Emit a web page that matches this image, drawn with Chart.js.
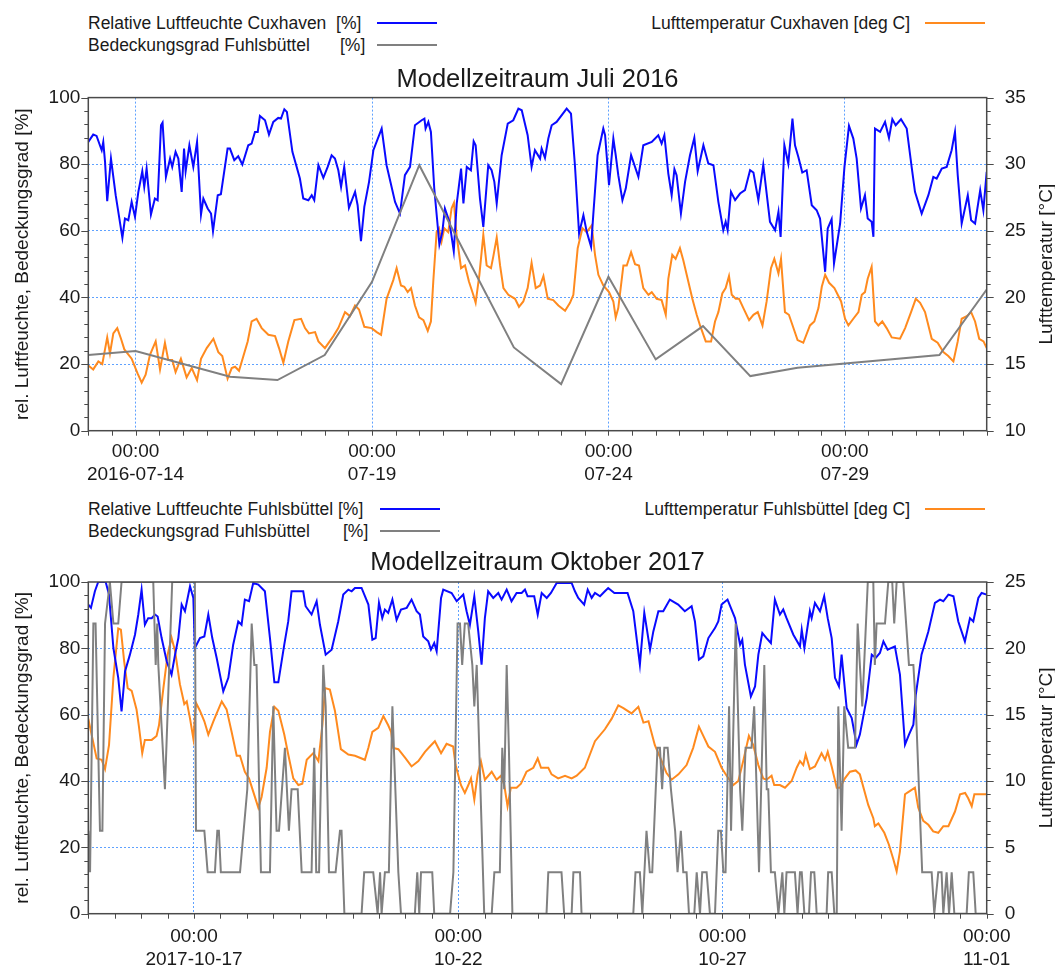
<!DOCTYPE html>
<html>
<head>
<meta charset="utf-8">
<script src="https://cdn.jsdelivr.net/npm/chart.js@4.4.1/dist/chart.umd.min.js"></script>
<style>
    html, body { margin: 0; padding: 0; background: #fff; }
    body {
        width: 1055px; height: 967px; position: relative; overflow: hidden;
        font-family: 'Liberation Sans', Arial, sans-serif; color: #1a1a1a;
    }
    .lg { position: absolute; font-size: 17.5px; line-height: 20px; white-space: pre; }
    .sw { position: absolute; height: 2px; }
    canvas { position: absolute; left: 0; }
</style>
</head>
<body>
<div id="legend"></div>
<canvas id="julChart" width="1055" height="430" style="top:60px"></canvas>
<canvas id="octChart" width="1055" height="427" style="top:540px"></canvas>
<script>
// --- Data (x = hours since start of period) ---
// Juli 2016: start 2016-07-13 00:00
const JULY_HUMIDITY = [
    [0,86.7],[2.5,88.9],[4.2,88.5],[6.8,84.2],[7.6,86.7],[8.5,80.7],[9.6,68.9],[11.5,81.7],[13.9,70.7],[17.3,57.9],
    [18.6,63.7],[20.3,63.2],[22.0,68.7],[23.7,64.2],[25.4,71.7],[27.4,77.9],[28.4,73.2],[29.6,78.7],[31.8,64.9],[33.8,69.7],
    [35.2,69.2],[36.9,91.7],[37.7,92.5],[39.4,76.2],[41.5,81.7],[42.6,79.2],[44.3,83.7],[45.7,81.7],[47.4,71.7],[48.6,84.7],
    [49.4,77.9],[51.3,85.7],[53.3,79.2],[55.2,86.7],[57.2,64.9],[58.4,69.7],[60.6,66.7],[62.3,65.2],[63.3,59.9],[65.7,70.7],
    [67.3,71.0],[70.7,84.7],[71.9,84.7],[74.1,81.2],[76.1,82.4],[78.2,79.9],[81.2,85.7],[82.9,86.2],[84.6,89.7],[86.0,89.7],
    [87.1,94.5],[89.7,93.2],[91.7,88.9],[93.9,92.7],[96.4,93.9],[97.8,93.7],[99.5,96.5],[100.8,95.7],[103.6,83.7],[107.4,75.7],
    [109.1,69.7],[111.7,69.2],[113.4,70.7],[114.7,69.2],[116.8,79.7],[119.3,75.9],[121.5,79.2],[123.5,82.7],[125.2,81.7],[126.9,78.2],
    [128.3,73.2],[129.9,79.2],[132.3,66.9],[135.4,71.7],[136.7,67.7],[138.4,56.9],[140.1,67.2],[142.5,74.7],[144.7,84.2],[148.9,90.7],
    [151.4,79.7],[155.7,68.7],[158.2,65.2],[160.7,76.7],[163.3,79.2],[165.8,91.7],[169.2,93.2],[170.6,93.7],[171.2,90.7],[172.6,92.7],
    [173.9,89.7],[175.6,72.7],[178.2,55.9],[179.7,59.7],[181.0,66.7],[183.3,62.7],[185.5,53.9],[187.0,68.2],[189.2,78.7],[190.4,68.2],
    [192.1,79.2],[194.2,78.2],[195.6,86.9],[196.6,85.7],[198.8,69.7],[200.5,61.2],[203.0,79.7],[204.7,78.2],[206.1,74.7],[207.3,68.2],
    [209.8,82.7],[212.9,92.2],[215.7,93.2],[218.3,96.7],[220.0,96.2],[223.0,88.7],[225.0,79.2],[226.7,84.2],[229.3,81.7],[230.1,84.7],
    [231.8,81.9],[233.5,87.7],[235.2,91.7],[237.7,92.7],[242.8,96.7],[245.0,95.2],[247.0,79.7],[249.1,59.2],[251.3,64.7],[253.0,59.7],
    [255.2,55.2],[256.3,64.7],[258.5,82.7],[261.4,90.7],[262.3,88.7],[264.3,73.7],[266.5,87.7],[267.7,82.7],[269.0,76.7],[271.1,69.2],
    [272.8,72.7],[275.5,82.7],[279.2,76.2],[281.7,85.7],[286.0,86.7],[289.3,88.7],[291.0,86.2],[292.4,88.7],[294.4,77.2],[296.1,70.7],
    [297.5,78.5],[298.6,76.7],[300.8,65.2],[302.9,74.7],[305.4,82.7],[307.6,87.9],[309.3,77.9],[312.2,85.7],[314.7,80.2],[317.3,79.7],
    [319.8,68.7],[322.3,60.2],[323.5,62.7],[324.5,60.2],[326.2,71.7],[328.3,69.2],[330.8,71.2],[333.3,72.2],[335.9,78.2],[337.6,77.5],
    [340.1,69.2],[342.6,79.9],[346.0,62.7],[348.6,60.2],[350.3,65.7],[351.4,58.2],[353.3,85.7],[355.3,80.2],[357.4,93.7],[358.7,85.7],
    [360.4,82.2],[362.4,77.5],[364.6,78.2],[367.2,67.7],[369.7,66.2],[371.4,63.7],[374.0,47.7],[375.3,60.7],[377.3,63.5],[378.5,50.2],
    [381.6,62.2],[383.8,79.2],[386.1,91.5],[388.3,87.7],[390.0,81.7],[392.2,66.7],[394.2,70.7],[395.6,63.7],[397.6,62.7],[398.5,58.2],
    [399.3,90.7],[401.9,89.7],[404.4,92.7],[406.4,87.9],[408.1,93.5],[409.8,91.7],[412.5,93.5],[415.4,90.7],[417.9,79.2],[419.6,71.7],
    [423.0,65.2],[426.4,70.7],[428.9,76.2],[430.6,75.7],[433.2,78.7],[435.7,79.2],[438.2,84.2],[439.9,89.7],[441.3,76.7],[443.3,62.2],
    [446.4,70.7],[448.1,63.2],[450.1,62.2],[452.7,72.2],[454.3,66.2],[456.0,77.7]
];
const JULY_TEMP = [
    [0,14.9],[2.5,14.6],[5.1,15.2],[7.1,15.0],[9.6,17.0],[11.0,15.8],[12.7,17.3],[14.7,17.7],[16.6,16.9],[18.3,16.1],
    [22.0,15.4],[25.0,14.3],[27.1,13.6],[29.1,14.2],[31.3,15.7],[34.2,16.7],[36.4,14.6],[38.9,16.6],[40.6,15.3],[42.6,15.3],
    [44.3,14.4],[47.0,15.4],[49.9,14.0],[52.5,14.7],[55.2,13.8],[57.2,15.4],[60.1,16.2],[63.5,16.9],[66.0,15.9],[68.0,15.6],
    [70.7,13.9],[72.8,14.7],[74.5,14.8],[76.5,14.5],[80.9,16.7],[82.9,18.2],[85.4,18.4],[88.0,17.7],[91.4,17.2],[94.8,17.1],
    [96.8,16.2],[99.0,15.1],[101.5,16.7],[104.6,18.3],[108.0,18.4],[110.0,17.7],[112.0,17.3],[115.1,17.4],[116.8,16.7],[120.1,16.2],
    [124.4,17.1],[126.9,17.7],[130.3,18.9],[132.8,18.6],[135.4,19.4],[137.4,19.1],[140.1,17.8],[143.8,17.7],[146.4,17.4],[148.6,17.2],
    [151.4,19.9],[154.8,21.3],[156.5,22.2],[158.7,20.9],[160.4,20.8],[162.1,20.4],[163.8,20.7],[165.8,19.4],[167.9,18.5],[170.1,18.3],
    [172.3,17.5],[173.9,18.2],[175.1,21.2],[176.8,24.9],[178.0,25.2],[179.3,24.2],[180.7,25.2],[182.7,24.9],[184.4,26.7],[185.6,27.1],
    [186.9,24.7],[189.2,22.2],[191.2,22.4],[193.2,21.2],[195.4,20.2],[196.6,19.6],[198.5,21.7],[200.5,24.7],[202.2,22.4],[204.4,22.2],
    [205.6,23.1],[207.3,24.5],[209.0,22.4],[210.7,20.7],[213.2,20.2],[216.6,19.9],[218.6,19.3],[220.8,19.7],[223.0,20.7],[225.0,22.6],
    [227.1,20.7],[229.3,20.9],[231.0,21.6],[233.2,19.9],[236.0,19.8],[238.6,19.4],[242.0,19.0],[244.5,19.6],[246.2,20.2],[248.4,23.7],
    [250.8,25.2],[253.0,24.9],[255.5,25.4],[257.2,23.2],[258.9,21.7],[261.4,20.9],[264.3,20.4],[266.5,19.7],[267.7,18.5],[269.0,19.2],
    [271.6,22.4],[273.3,22.4],[275.5,23.4],[277.5,22.5],[279.5,22.4],[281.7,20.7],[284.3,20.2],[286.0,20.4],[288.5,19.9],[291.0,19.8],
    [293.1,18.7],[294.4,21.4],[296.4,23.2],[298.1,22.9],[300.3,23.7],[302.0,22.8],[306.6,19.9],[308.8,18.7],[310.5,17.9],[313.4,16.7],
    [316.1,16.7],[318.1,18.2],[319.8,18.9],[321.8,20.3],[323.5,20.7],[325.2,21.6],[326.6,20.2],[328.6,19.9],[330.3,19.9],[332.5,19.2],
    [335.4,18.3],[337.6,18.7],[339.8,18.9],[342.2,17.9],[344.3,19.7],[346.5,22.2],[348.2,22.9],[350.3,21.8],[351.6,22.9],[353.6,18.9],
    [355.6,18.7],[357.0,18.1],[360.0,16.8],[362.9,16.6],[366.3,17.9],[368.5,18.2],[370.6,19.2],[372.3,20.8],[374.0,21.7],[376.0,21.1],
    [378.7,20.7],[382.1,19.7],[384.1,18.4],[385.8,17.9],[388.3,18.4],[390.9,18.9],[392.6,20.2],[394.2,20.4],[395.6,21.4],[397.6,22.3],
    [399.3,18.2],[401.0,17.9],[403.0,18.2],[405.2,17.7],[407.8,17.0],[412.0,16.9],[414.6,17.7],[417.6,18.9],[420.0,19.9],[422.2,19.6],
    [424.7,18.9],[428.1,16.9],[431.1,16.6],[434.0,15.9],[436.5,15.6],[439.1,15.2],[441.3,16.7],[443.3,18.4],[445.9,18.6],[448.1,18.9],
    [450.1,18.2],[452.2,16.9],[454.4,16.7],[456.0,16.2]
];
const JULY_COVER = [
    [0,22.7],[24,23.9],[72,16.2],[96,15.2],[120,22.7],[144,44.7],[168,79.7],[216,25.0],
    [240,14.0],[264,46.2],[288,21.4],[312,31.4],[336,16.4],[360,18.9],[432,22.7],[456,42.4]
];
const JULY_LABEL_HOURS = [24, 144, 264, 384];
const JULY_DATE_LABELS = ['2016-07-14', '07-19', '07-24', '07-29'];

// Oktober 2017: start 2017-10-15 00:00
const OCT_HUMIDITY = [
    [0,93.2],[1.2,92.2],[3.0,97.2],[4.5,100],[7.9,100],[9.4,96.2],[11.4,80.1],[13.6,71.1],[15.1,61.0],[16.7,73.1],
    [18.9,78.1],[21.2,84.1],[22.7,90.2],[24.2,97.7],[25.7,87.1],[27.2,89.1],[28.8,89.1],[30.3,90.2],[31.5,89.6],[33.3,83.1],
    [35.6,76.1],[37.8,72.1],[39.4,78.1],[40.9,83.1],[42.4,93.2],[43.9,91.2],[46.2,98.7],[47.7,95.2],[48.4,80.1],[50.7,83.1],
    [52.7,83.6],[54.5,90.2],[56.3,83.1],[58.3,77.1],[61.3,67.0],[63.6,71.1],[65.8,81.1],[68.1,88.1],[69.6,87.1],[71.1,94.7],
    [73.0,94.2],[74.9,99.7],[77.2,99.2],[80.2,97.2],[82.5,83.1],[84.5,69.8],[86.3,69.8],[89.0,81.1],[90.8,88.1],[92.3,97.2],
    [97.6,97.2],[98.7,92.7],[101.4,90.2],[103.7,94.2],[105.2,87.1],[107.8,78.1],[110.5,79.6],[113.5,88.1],[115.8,96.2],[118.1,97.7],
    [119.6,97.2],[121.1,98.2],[124.1,98.2],[127.2,93.2],[129.0,82.6],[130.5,83.1],[132.0,93.7],[133.5,89.1],[134.7,91.7],[136.2,90.7],
    [138.1,94.7],[140.0,88.6],[142.0,91.7],[144.6,92.2],[146.8,94.7],[149.1,91.2],[150.6,90.2],[152.1,83.6],[154.4,82.1],[155.6,79.6],
    [157.1,81.6],[158.2,79.1],[160.2,95.2],[161.2,97.7],[165.0,96.7],[167.3,94.2],[170.3,96.2],[171.8,91.2],[173.3,87.1],[175.3,95.7],
    [177.1,85.1],[178.6,75.1],[180.1,89.1],[181.6,97.2],[183.9,95.2],[186.2,96.7],[187.7,94.7],[190.0,97.7],[192.2,94.2],[194.5,96.7],
    [196.8,96.7],[198.3,97.7],[199.5,95.7],[202.5,95.7],[204.1,90.2],[205.9,96.7],[208.2,95.2],[210.1,96.7],[212.7,99.7],[217.2,99.7],
    [219.5,99.7],[221.0,97.2],[222.5,95.2],[225.2,93.2],[226.8,97.7],[228.6,95.2],[230.1,96.7],[232.4,95.7],[234.6,97.2],[236.1,98.2],
    [238.9,96.7],[244.9,96.7],[247.5,91.2],[249.0,83.1],[250.5,75.1],[252.5,90.7],[253.6,86.1],[255.1,79.6],[256.6,85.1],[258.9,91.2],
    [261.1,91.2],[264.1,94.7],[267.9,93.2],[270.9,91.2],[274.0,92.7],[275.5,88.1],[277.3,76.6],[279.3,77.6],[281.6,83.1],[284.6,86.1],
    [286.1,88.1],[287.6,93.2],[290.3,94.7],[293.7,89.1],[296.0,81.1],[297.0,82.6],[298.2,75.1],[300.9,65.5],[302.8,68.5],[304.3,78.1],
    [306.1,84.6],[308.0,83.1],[310.0,81.6],[311.8,94.7],[314.1,90.2],[315.6,91.7],[317.1,89.1],[320.2,84.1],[323.2,80.6],[324.0,85.6],
    [325.2,80.1],[327.7,91.2],[328.5,89.1],[330.0,93.7],[332.3,91.2],[334.2,95.7],[335.8,89.1],[337.6,83.1],[339.1,71.1],[340.9,68.5],
    [342.1,78.1],[344.4,62.0],[346.7,59.0],[348.9,51.0],[350.4,54.0],[353.5,65.0],[355.8,78.1],[357.6,77.1],[359.5,78.6],[361.1,82.1],
    [363.0,79.6],[366.3,80.6],[368.6,72.1],[370.9,51.0],[372.7,54.0],[374.7,57.0],[375.8,66.0],[378.4,78.1],[381.5,85.1],[384.5,93.7],
    [386.8,94.7],[388.3,94.2],[390.6,96.2],[392.9,95.7],[395.1,88.1],[398.1,82.1],[400.4,89.1],[401.9,88.1],[404.2,95.2],[405.7,96.7],
    [408.0,96.2]
];
const OCT_TEMP = [
    [0,14.7],[1.5,13.5],[3.8,11.7],[6.1,11.6],[7.6,10.9],[9.4,12.7],[11.4,17.8],[13.6,21.5],[14.8,21.4],[16.3,19.0],
    [17.9,17.0],[19.7,16.8],[21.9,15.4],[23.0,14.1],[24.5,12.1],[25.7,13.1],[28.8,13.1],[31.0,13.4],[32.1,14.2],[34.1,17.0],
    [36.0,19.5],[37.8,20.8],[39.4,19.8],[41.6,17.3],[43.6,15.8],[44.7,16.0],[46.2,14.7],[47.7,13.2],[48.9,15.9],[50.7,15.3],
    [52.7,14.5],[54.5,13.5],[56.8,14.5],[58.3,15.1],[60.6,16.0],[62.8,15.4],[65.1,13.7],[67.4,11.9],[68.9,11.9],[71.1,10.7],
    [73.0,10.2],[74.9,9.2],[77.2,8.0],[78.7,8.8],[81.0,11.0],[82.5,13.7],[84.5,15.6],[86.3,15.3],[89.0,13.5],[90.8,12.0],
    [93.1,10.2],[95.4,9.7],[97.2,9.8],[99.2,11.6],[102.2,12.1],[104.5,11.5],[106.3,14.2],[107.5,17.0],[109.7,16.9],[112.0,15.3],
    [114.7,12.4],[118.1,12.0],[121.1,11.9],[125.6,11.6],[127.2,12.5],[129.0,13.7],[131.7,14.0],[134.0,14.9],[136.2,14.2],[137.5,13.7],
    [138.5,12.5],[140.8,12.4],[144.1,11.7],[146.8,11.1],[149.9,11.5],[152.9,12.2],[155.1,12.6],[157.4,13.0],[160.2,12.1],[162.7,12.8],
    [165.7,12.6],[166.8,11.2],[169.2,9.7],[171.0,9.1],[172.6,9.7],[173.8,10.2],[175.3,8.6],[176.8,10.5],[178.3,11.5],[180.1,10.1],
    [183.2,10.7],[185.4,10.1],[187.4,10.4],[188.9,9.7],[190.4,8.1],[191.9,9.5],[194.5,9.5],[196.5,9.8],[199.0,10.7],[202.1,11.0],
    [204.1,11.7],[205.6,11.0],[208.9,11.0],[210.4,10.5],[213.4,10.2],[216.5,10.4],[219.5,10.2],[221.8,10.4],[225.5,11.0],[230.1,13.0],
    [234.6,13.9],[237.7,14.7],[240.7,15.7],[243.0,15.5],[246.7,15.1],[249.8,15.6],[252.1,14.4],[254.4,14.5],[257.3,12.7],[260.4,11.5],
    [262.6,10.6],[264.9,10.1],[268.0,10.5],[271.7,11.2],[274.7,12.5],[277.3,14.1],[279.3,13.4],[281.6,12.6],[284.6,12.2],[287.6,11.0],
    [289.9,10.4],[292.9,9.7],[295.2,10.0],[297.4,11.5],[300.0,13.4],[302.0,12.7],[304.3,11.2],[306.5,10.2],[308.0,10.1],[310.3,10.4],
    [311.5,9.7],[314.1,9.7],[316.4,9.5],[319.4,10.0],[321.7,11.0],[323.2,11.5],[324.7,11.2],[325.8,12.0],[327.7,10.9],[330.0,11.1],
    [333.0,12.1],[334.6,11.6],[335.8,12.2],[337.6,11.1],[339.9,9.5],[341.4,9.5],[343.6,10.2],[345.9,10.7],[348.5,10.8],[350.4,10.5],
    [354.2,8.2],[356.5,7.2],[357.2,6.6],[358.8,6.8],[361.5,6.1],[363.6,5.2],[365.6,4.1],[367.1,3.2],[368.6,4.7],[370.9,9.0],
    [372.7,9.2],[375.4,9.5],[376.9,8.0],[379.2,7.0],[381.5,6.7],[383.7,6.2],[386.0,6.1],[388.3,6.6],[390.6,6.6],[393.6,7.7],
    [395.9,9.0],[398.2,9.1],[399.6,8.7],[401.2,8.1],[402.4,9.0],[405.7,9.0],[408.0,9.0]
];
const OCT_COVER = [
    [0,25],[0.8,12.5],[2.3,87.5],[3.3,87.5],[5.3,25],[6.4,25],[7.6,87.5],[9.8,100],[11.4,87.5],[13.6,87.5],
    [15.1,100],[29.5,100],[30.6,75],[31.3,87.5],[31.8,75],[34.8,37.5],[38.1,100],[48.4,100],[48.9,25],[52.7,25],
    [54.2,12.5],[57.5,12.5],[58.6,25],[59.3,25],[60.2,12.5],[68.9,12.5],[72.2,37.5],[74.2,87.5],[75.4,75],[76.4,75],
    [78.4,12.5],[82.5,12.5],[84.0,62.5],[85.5,25],[86.6,25],[89.3,50],[91.1,25],[92.3,37.5],[95.1,37.5],[96.9,12.5],
    [101.4,12.5],[102.6,50],[103.5,12.5],[104.8,12.5],[106.7,75],[107.8,62.5],[109.3,12.5],[112.3,12.5],[114.3,25],[115.0,25],
    [116.3,0],[124.1,0],[125.3,12.5],[129.4,12.5],[131.4,0],[132.5,12.5],[133.2,0],[134.7,12.5],[136.5,12.5],[138.1,62.5],
    [140.8,12.5],[142.0,0],[148.3,0],[149.4,12.5],[150.3,0],[151.1,12.5],[156.2,12.5],[157.1,0],[164.3,0],[165.8,12.5],
    [167.7,87.5],[168.8,87.5],[169.8,75],[171.0,87.5],[172.5,87.5],[174.4,75],[175.3,62.5],[176.4,75],[179.8,0],[183.2,0],
    [184.4,12.5],[186.9,12.5],[188.0,50],[188.9,37.5],[190.0,75],[191.0,50],[192.6,0],[208.1,0],[208.9,12.5],[214.9,12.5],
    [216.1,0],[219.5,0],[220.3,12.5],[223.3,12.5],[224.0,0],[247.5,0],[248.5,12.5],[250.5,12.5],[251.6,0],[253.5,25],
    [255.0,12.5],[256.1,12.5],[258.5,50],[259.6,50],[260.6,37.5],[261.6,50],[263.1,50],[264.6,37.5],[266.5,25],[267.6,12.5],
    [269.1,25],[270.2,12.5],[271.7,12.5],[272.8,0],[275.2,0],[276.3,12.5],[277.8,0],[278.8,12.5],[280.8,12.5],[282.3,0],
    [284.6,0],[286.1,25],[287.3,25],[288.4,12.5],[289.4,12.5],[291.0,62.5],[291.9,25],[294.0,87.5],[296.0,37.5],[297.0,25],
    [298.5,50],[301.2,50],[302.4,62.5],[303.5,37.5],[304.6,12.5],[307.0,75],[308.1,37.5],[308.8,37.5],[310.0,12.5],[311.8,12.5],
    [313.4,0],[315.2,12.5],[316.1,0],[317.1,12.5],[320.9,12.5],[322.1,0],[323.2,12.5],[324.0,12.5],[325.2,0],[327.3,0],
    [328.2,12.5],[329.7,12.5],[330.8,0],[335.3,0],[336.0,12.5],[337.6,12.5],[338.8,0],[339.9,0],[340.6,62.5],[342.1,25],
    [343.3,62.5],[345.1,50],[348.2,50],[349.4,87.5],[350.4,75],[351.5,62.5],[354.0,100],[356.5,100],[357.2,75],[358.0,87.5],
    [361.8,87.5],[363.3,100],[365.1,100],[366.0,87.5],[367.1,100],[370.1,100],[372.7,75],[374.7,75],[375.8,62.5],[378.7,12.5],
    [383.0,12.5],[384.2,0],[386.0,12.5],[387.5,12.5],[388.3,0],[389.8,12.5],[390.9,0],[392.1,12.5],[393.3,0],[398.9,0],
    [399.9,12.5],[401.9,12.5],[403.0,0],[408.0,0]
];
const OCT_LABEL_HOURS = [48, 168, 288, 408];
const OCT_DATE_LABELS = ['2017-10-17', '10-22', '10-27', '11-01'];

// --- Style ---
const FONT = "'Liberation Sans', Arial, sans-serif";
const TEXT = '#1a1a1a';
const BLUE = '#0a0aff';
const ORANGE = '#ff8a1e';
const GRAY = '#808080';
const GRID = 'rgba(40,130,255,0.75)';
const AXIS = '#4a4a4a';

Chart.defaults.font.family = FONT;
Chart.defaults.color = TEXT;

// legend rows (html text, the chart legend cannot do this layout)
const LEGENDS = [
    { text: 'Relative Luftfeuchte Cuxhaven  [%]', left: 88, y: 23, color: BLUE, line: [377, 437] },
    { text: 'Bedeckungsgrad Fuhlsbüttel', left: 88, y: 45, unit: 340, color: GRAY, line: [377, 437] },
    { text: 'Lufttemperatur Cuxhaven [deg C]', right: 910, y: 23, color: ORANGE, line: [925, 985] },
    { text: 'Relative Luftfeuchte Fuhlsbüttel [%]', left: 88, y: 509, color: BLUE, line: [380, 440] },
    { text: 'Bedeckungsgrad Fuhlsbüttel', left: 88, y: 531, unit: 343, color: GRAY, line: [380, 440] },
    { text: 'Lufttemperatur Fuhlsbüttel [deg C]', right: 910, y: 509, color: ORANGE, line: [925, 985] }
];

function buildLegend() {
    const box = document.getElementById('legend');
    LEGENDS.forEach(l => {
        const t = document.createElement('div');
        t.className = 'lg';
        t.textContent = l.text;
        t.style.top = (l.y - 10) + 'px';
        if (l.right !== undefined) t.style.right = (1055 - l.right) + 'px';
        else t.style.left = l.left + 'px';
        box.appendChild(t);
        if (l.unit) {
            const u = document.createElement('div');
            u.className = 'lg';
            u.textContent = '[%]';
            u.style.top = (l.y - 10) + 'px';
            u.style.left = l.unit + 'px';
            box.appendChild(u);
        }
        const s = document.createElement('div');
        s.className = 'sw';
        s.style.background = l.color;
        s.style.left = l.line[0] + 'px';
        s.style.width = (l.line[1] - l.line[0]) + 'px';
        s.style.top = (l.y - 1) + 'px';
        box.appendChild(s);
    });
}

// frame, minor ticks and the right axis title (reads bottom to top)
const frameAndTicks = {
    id: 'frameAndTicks',
    afterDraw(chart, args, opts) {
        const { ctx, chartArea: a, scales } = chart;
        const xs = scales.x, yl = scales.y, yr = scales.y1;
        ctx.save();
        ctx.strokeStyle = AXIS;
        ctx.lineWidth = 1;
        ctx.beginPath();
        for (let h = 0; h <= xs.max; h += 12) {
            const px = Math.round(xs.getPixelForValue(h)) + 0.5;
            ctx.moveTo(px, a.bottom);
            ctx.lineTo(px, a.bottom + 5);
        }
        for (let i = 0; i <= 25; i++) {
            const len = i % 5 === 0 ? 7 : 4;
            const pl = Math.round(yl.getPixelForValue(yl.min + i * (yl.max - yl.min) / 25)) + 0.5;
            ctx.moveTo(a.left - len, pl);
            ctx.lineTo(a.left, pl);
            const pr = Math.round(yr.getPixelForValue(yr.min + i * (yr.max - yr.min) / 25)) + 0.5;
            ctx.moveTo(a.right, pr);
            ctx.lineTo(a.right + len, pr);
        }
        ctx.stroke();
        ctx.lineWidth = 1.5;
        ctx.strokeRect(a.left, a.top, a.right - a.left, a.bottom - a.top);

        ctx.fillStyle = TEXT;
        ctx.font = '19px ' + FONT;
        ctx.textAlign = 'center';
        ctx.textBaseline = 'middle';
        ctx.translate(opts.titleX, (a.top + a.bottom) / 2);
        ctx.rotate(-Math.PI / 2);
        ctx.fillText(opts.title, 0, 0);
        ctx.restore();
    }
};

function toPoints(pairs) {
    return pairs.map(p => ({ x: p[0], y: p[1] }));
}

function makePanel(id, p) {
    const ctx = document.getElementById(id).getContext('2d');
    return new Chart(ctx, {
        type: 'line',
        data: {
            datasets: [
                { label: 'cover', data: toPoints(p.cover), yAxisID: 'y', borderColor: GRAY, borderWidth: 2 },
                { label: 'humidity', data: toPoints(p.humidity), yAxisID: 'y', borderColor: BLUE, borderWidth: 2 },
                { label: 'temp', data: toPoints(p.temp), yAxisID: 'y1', borderColor: ORANGE, borderWidth: 2 }
            ]
        },
        options: {
            responsive: false,
            animation: false,
            events: [],
            elements: { point: { radius: 0 }, line: { tension: 0 } },
            layout: { padding: { top: p.padTop, left: 0, right: 0, bottom: 0 } },
            plugins: {
                legend: { display: false },
                tooltip: { enabled: false },
                title: {
                    display: true,
                    text: p.title,
                    fullSize: false,
                    color: TEXT,
                    font: { size: 25.5, weight: 'normal' },
                    padding: { top: 0, bottom: p.titleGap }
                },
                frameAndTicks: { title: 'Lufttemperatur [°C]', titleX: 1046.7 }
            },
            scales: {
                x: {
                    type: 'linear',
                    min: 0,
                    max: p.hours,
                    afterBuildTicks: scale => {
                        scale.ticks = p.labelHours.map(v => ({ value: v }));
                    },
                    afterFit: scale => { scale.height = p.xHeight; },
                    border: { display: false, dash: [2, 2] },
                    grid: { color: GRID, drawTicks: false },
                    ticks: {
                        autoSkip: false,
                        maxRotation: 0,
                        minRotation: 0,
                        padding: p.xPad,
                        font: { size: 19 },
                        callback: (value, index) => ['00:00', p.dateLabels[index]]
                    }
                },
                y: {
                    position: 'left',
                    min: 0,
                    max: 100,
                    afterFit: scale => { scale.width = 88.3; },
                    border: { display: false, dash: [2, 2] },
                    grid: {
                        drawTicks: false,
                        color: c => (c.tick && (c.tick.value === 0 || c.tick.value === 100)) ? 'rgba(0,0,0,0)' : GRID
                    },
                    ticks: { stepSize: 20, padding: 8, font: { size: 19 } },
                    title: {
                        display: true,
                        text: 'rel. Luftfeuchte, Bedeckungsgrad [%]',
                        font: { size: 19 },
                        padding: { top: 11, bottom: 0 }
                    }
                },
                y1: {
                    position: 'right',
                    min: p.tMin,
                    max: p.tMin + 25,
                    afterFit: scale => { scale.width = 68.3; },
                    border: { display: false },
                    grid: { display: false, drawTicks: false },
                    ticks: { stepSize: 5, padding: 18, font: { size: 19 } }
                }
            }
        },
        plugins: [frameAndTicks]
    });
}

buildLegend();

makePanel('julChart', {
    title: 'Modellzeitraum Juli 2016',
    humidity: JULY_HUMIDITY,
    temp: JULY_TEMP,
    cover: JULY_COVER,
    hours: 456,
    labelHours: JULY_LABEL_HOURS,
    dateLabels: JULY_DATE_LABELS,
    tMin: 10,
    padTop: 5,
    titleGap: 2,
    xHeight: 59.3,
    xPad: 10
});

makePanel('octChart', {
    title: 'Modellzeitraum Oktober 2017',
    humidity: OCT_HUMIDITY,
    temp: OCT_TEMP,
    cover: OCT_COVER,
    hours: 408,
    labelHours: OCT_LABEL_HOURS,
    dateLabels: OCT_DATE_LABELS,
    tMin: 0,
    padTop: 8,
    titleGap: 3.4,
    xHeight: 53.3,
    xPad: 12
});
</script>
</body>
</html>
